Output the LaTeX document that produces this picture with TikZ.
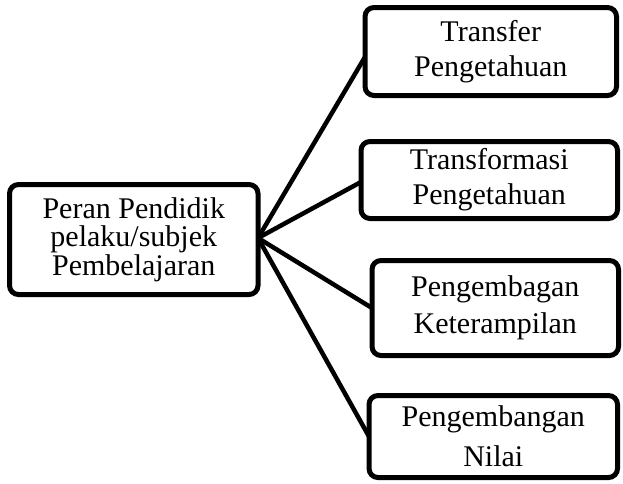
\documentclass[tikz,border=0pt]{standalone}
\usepackage{fontspec}
\setmainfont{Liberation Serif}
\begin{document}
\begin{tikzpicture}[x=1pt,y=-1pt,
  box/.style={draw=black, line width=5pt, rounded corners=9pt, align=center,
    inner sep=0pt, outer sep=0pt, font=\fontsize{30}{35}\selectfont},
  link/.style={draw=black, line width=4.5pt}]
\useasboundingbox (0,0) rectangle (623,483);

% central role
\node[box, minimum width=248.5pt, minimum height=110pt,
      font=\fontsize{30}{28.5}\selectfont] (peran) at (133.75,239.5)
  {Peran Pendidik\\pelaku/subjek\\Pembelajaran};

% four roles on the right
\node[box, minimum width=251.5pt, minimum height=88pt] (transfer) at (490.75,51.5)
  {Transfer\\Pengetahuan};
\node[box, minimum width=256.5pt, minimum height=77pt] (transform) at (489.25,180)
  {Transformasi\\Pengetahuan};
\node[box, minimum width=246.5pt, minimum height=95pt,
      font=\fontsize{30}{37}\selectfont] (terampil) at (495.25,308)
  {Pengembagan\\Keterampilan};
\node[box, minimum width=248.5pt, minimum height=82pt,
      font=\fontsize{30}{40}\selectfont] (nilai) at (493.25,436.5)
  {Pengembangan\\Nilai};

% connectors fanning out from the central box
\coordinate (hub) at ([yshift=1.5pt]peran.east);
\draw[link] (hub) -- ([yshift=-5.5pt]transfer.west);
\draw[link] (hub) -- ([yshift=-2pt]transform.west);
\draw[link] (hub) -- (terampil.west);
\draw[link] (hub) -- (nilai.west);
\end{tikzpicture}
\end{document}
